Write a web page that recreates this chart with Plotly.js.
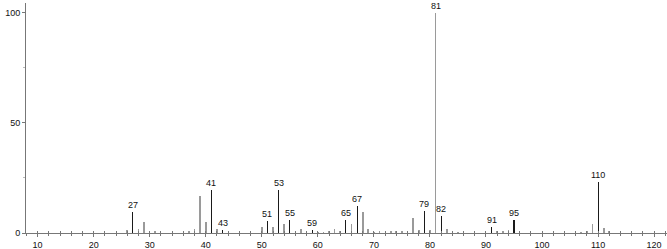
<!DOCTYPE html>
<html>
<head>
<meta charset="utf-8">
<script src="https://cdn.plot.ly/plotly-3.0.1.min.js"></script>
<style>html,body{margin:0;padding:0;background:#fff;}#chart{width:667px;height:249px;}</style>
</head>
<body>
<div id="chart"></div>
<script>
// m/z values and relative intensities
const mz = [26, 27, 28, 29, 31, 37, 38, 39, 40, 41, 42, 43, 50, 51, 52, 53, 54, 55, 56, 57, 58, 59, 60, 61, 62, 63, 64, 65, 66, 67, 68, 69, 70, 71, 73, 74, 75, 76, 77, 78, 79, 80, 81, 82, 83, 84, 85, 91, 92, 93, 94, 95, 96, 107, 108, 109, 110, 111, 112];
const intensity = [1.5, 9.5, 1.8, 5.0, 1.0, 0.9, 1.8, 17, 5.1, 19.5, 1.8, 1.2, 2.9, 5.5, 2.7, 19.5, 4.1, 5.8, 1.0, 1.8, 0.5, 1.5, 0.5, 0.6, 0.8, 1.6, 0.8, 5.8, 4.1, 12.3, 9.7, 1.8, 0.5, 1.0, 0.7, 0.7, 0.7, 0.7, 6.7, 1.3, 10.0, 1.5, 100, 7.7, 1.8, 0.8, 0.5, 2.9, 0.7, 1.0, 1.3, 5.9, 1.0, 0.5, 1.0, 4.2, 23, 2.3, 1.0];
const labeledPeaks = [27, 41, 43, 51, 53, 55, 59, 65, 67, 79, 82, 91, 95, 110];
const grayPeaks = [81];
const xTickValues = [10, 20, 30, 40, 50, 60, 70, 80, 90, 100, 110, 120];
const yTickValues = [0, 50, 100];

const darkX = [], darkY = [], grayX = [], grayY = [];
mz.forEach((m, i) => {
  if (labeledPeaks.includes(m) && !grayPeaks.includes(m)) { darkX.push(m); darkY.push(intensity[i]); }
  else { grayX.push(m); grayY.push(intensity[i]); }
});

const traces = [
  {type: 'bar', x: grayX, y: grayY, width: 0.3, marker: {color: '#9a9a9a', line: {width: 0}}, hoverinfo: 'x+y'},
  {type: 'bar', x: darkX, y: darkY, width: 0.2, marker: {color: '#1a1a1a', line: {width: 0}}, hoverinfo: 'x+y'}
];

const annotations = labeledPeaks.concat(grayPeaks).map(m => ({
  x: m, y: intensity[mz.indexOf(m)], xref: 'x', yref: 'y',
  text: String(m), showarrow: false, yanchor: 'bottom', yshift: 0,
  font: {family: 'Liberation Sans, Arial, sans-serif', size: 9, color: '#111'}
}));

const axisFont = {family: 'Liberation Sans, Arial, sans-serif', size: 9, color: '#111'};

const layout = {
  width: 667, height: 249,
  margin: {l: 26, r: 0, t: 3, b: 16, pad: 0},
  paper_bgcolor: '#fff', plot_bgcolor: '#fff',
  showlegend: false, bargap: 0, barmode: 'overlay',
  xaxis: {
    range: [7.93, 122.3], showgrid: false, zeroline: false,
    showline: true, linecolor: '#777', linewidth: 1,
    tickmode: 'array', tickvals: xTickValues, ticktext: xTickValues.map(String),
    ticks: 'outside', ticklen: 3, tickcolor: '#777', tickwidth: 1,
    tickfont: axisFont,
    minor: {dtick: 2, tick0: 0, ticks: 'outside', ticklen: 2, tickcolor: '#777', showgrid: false}
  },
  xaxis2: {
    range: [7.93, 122.3], overlaying: 'x', anchor: 'y', side: 'bottom',
    showgrid: false, zeroline: false, showline: false, showticklabels: false,
    tickmode: 'linear', tick0: 0, dtick: 2, ticks: 'inside', ticklen: 2, tickcolor: '#777'
  },
  yaxis: {
    range: [0, 104.5], showgrid: false, zeroline: false,
    showline: true, linecolor: '#777', linewidth: 1,
    tickmode: 'array', tickvals: yTickValues, ticktext: yTickValues.map(String),
    ticks: 'outside', ticklen: 3, tickcolor: '#777',
    tickfont: axisFont,
    minor: {tickvals: [25, 75], ticks: 'outside', ticklen: 2, tickcolor: '#bbb', showgrid: false}
  },
  annotations: annotations
};

traces.push({type: 'scatter', x: [], y: [], xaxis: 'x2', yaxis: 'y', hoverinfo: 'skip'});

Plotly.newPlot('chart', traces, layout, {displayModeBar: false, staticPlot: true});
</script>
</body>
</html>
